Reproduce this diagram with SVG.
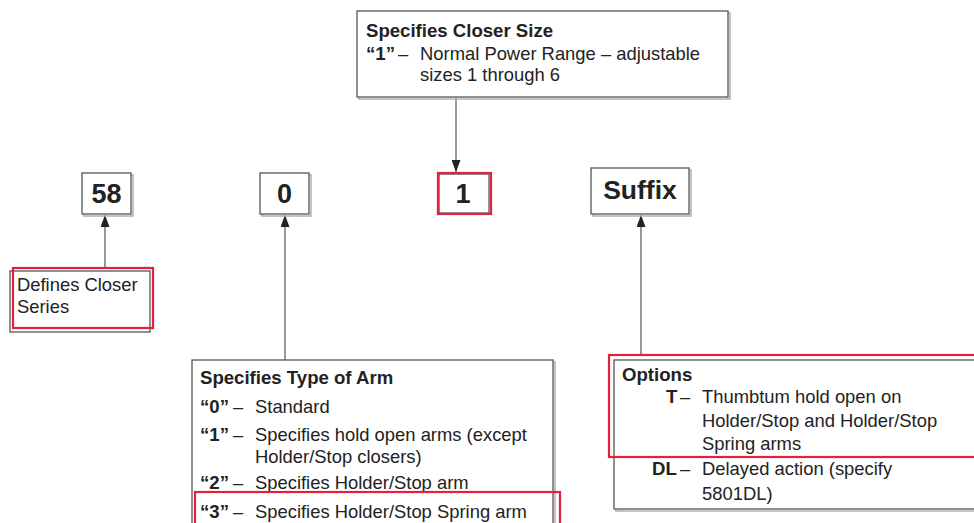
<svg xmlns="http://www.w3.org/2000/svg" width="974" height="523" viewBox="0 0 974 523">
<defs>
<style>
.box{fill:#fff;stroke:#555;stroke-width:1.3}
.shadow{fill:none;stroke:#b0b0b0;stroke-width:1.5}
.red{fill:none;stroke:#e5203d;stroke-width:2.2}
.t{font-family:"Liberation Sans",Arial,Helvetica,sans-serif;font-size:18.4px;fill:#222}
.b{font-weight:bold;font-size:18.6px}
.big{font-family:"Liberation Sans",Arial,Helvetica,sans-serif;font-weight:bold;fill:#222}
.conn{stroke:#555;stroke-width:1.2;fill:none;marker-end:url(#arr)}
</style>
<marker id="arr" markerUnits="userSpaceOnUse" markerWidth="13" markerHeight="9" refX="12" refY="4.5" orient="auto">
<path d="M0,0 L12,4.5 L0,9 z" fill="#222"/>
</marker>
</defs>
<rect width="974" height="523" fill="#fff"/>

<g id="connectors">
<line class="conn" x1="456" y1="98" x2="456" y2="172"/>
<line class="conn" x1="105" y1="268" x2="105" y2="215"/>
<line class="conn" x1="285" y1="360" x2="285" y2="215"/>
<line class="conn" x1="641" y1="356" x2="641" y2="215"/>
</g>

<g id="size-box">
<rect class="shadow" x="359" y="13" width="371" height="86"/>
<rect class="box" x="357" y="11" width="371" height="86"/>
<text class="t b" x="366" y="37">Specifies Closer Size</text>
<text class="t b" x="366" y="60">“1”</text>
<text class="t" x="398" y="60">–</text>
<text class="t" x="420" y="60">Normal Power Range – adjustable</text>
<text class="t" x="420" y="81">sizes 1 through 6</text>
</g>

<g id="n58">
<rect class="shadow" x="84" y="175" width="49" height="41"/>
<rect class="box" x="82" y="173" width="49" height="41"/>
<text class="big" x="106.5" y="203" font-size="27" text-anchor="middle">58</text>
</g>

<g id="n0">
<rect class="shadow" x="262" y="175" width="49" height="41"/>
<rect class="box" x="260" y="173" width="49" height="41"/>
<text class="big" x="284.5" y="203" font-size="27" text-anchor="middle">0</text>
</g>

<g id="n1">
<rect class="box" x="439" y="174" width="50" height="39"/>
<rect class="red" x="438" y="173" width="53" height="41"/>
<text class="big" x="463" y="203" font-size="27" text-anchor="middle">1</text>
</g>

<g id="suffix">
<rect class="shadow" x="593" y="170" width="98" height="46"/>
<rect class="box" x="591" y="168" width="98" height="46"/>
<text class="big" x="640" y="199" font-size="26.5" text-anchor="middle">Suffix</text>
</g>

<g id="series-box">
<rect class="box" x="10" y="271" width="140" height="61"/>
<rect class="red" x="13" y="268" width="140" height="60"/>
<text class="t" x="17" y="291">Defines Closer</text>
<text class="t" x="17" y="313">Series</text>
</g>

<g id="arm-box">
<rect class="shadow" x="194" y="362" width="361" height="200"/>
<rect class="box" x="192" y="360" width="361" height="200"/>
<text class="t b" x="200" y="384">Specifies Type of Arm</text>
<text class="t b" x="200" y="413">“0”</text>
<text class="t" x="233" y="413">–</text>
<text class="t" x="255" y="413">Standard</text>
<text class="t b" x="200" y="441">“1”</text>
<text class="t" x="233" y="441">–</text>
<text class="t" x="255" y="441">Specifies hold open arms (except</text>
<text class="t" x="255" y="463">Holder/Stop closers)</text>
<text class="t b" x="200" y="489">“2”</text>
<text class="t" x="233" y="489">–</text>
<text class="t" x="255" y="489">Specifies Holder/Stop arm</text>
<text class="t b" x="200" y="518">“3”</text>
<text class="t" x="233" y="518">–</text>
<text class="t" x="255" y="518">Specifies Holder/Stop Spring arm</text>
<rect class="red" x="195" y="492" width="365" height="60"/>
</g>

<g id="options-box">
<rect class="shadow" x="616" y="362" width="400" height="149"/>
<rect class="box" x="614" y="360" width="400" height="149"/>
<text class="t b" x="622" y="381">Options</text>
<text class="t b" x="666" y="403">T</text>
<text class="t" x="680" y="403">–</text>
<text class="t" x="702" y="403">Thumbtum hold open on</text>
<text class="t" x="702" y="427">Holder/Stop and Holder/Stop</text>
<text class="t" x="702" y="450">Spring arms</text>
<text class="t b" x="652" y="475">DL</text>
<text class="t" x="680" y="475">–</text>
<text class="t" x="702" y="475">Delayed action (specify</text>
<text class="t" x="702" y="500">5801DL)</text>
<rect class="red" x="609" y="355" width="400" height="102"/>
</g>
</svg>
